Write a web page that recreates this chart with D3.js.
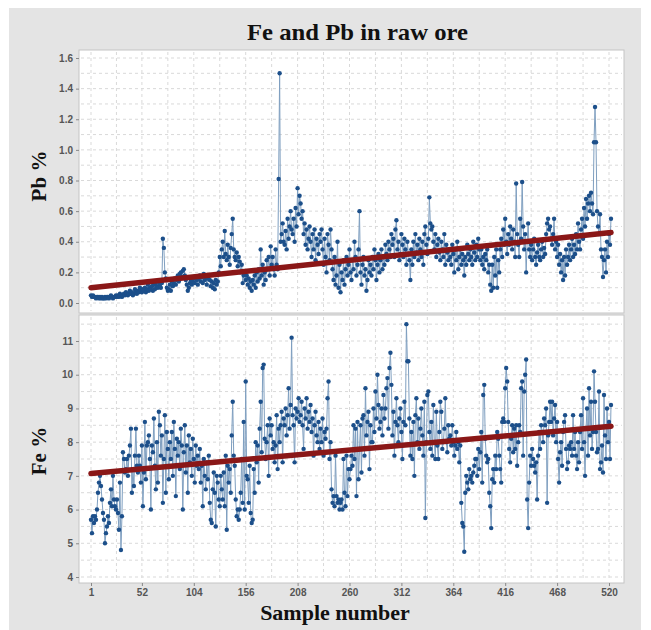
<!DOCTYPE html>
<html><head><meta charset="utf-8">
<script src="https://cdn.jsdelivr.net/npm/d3@7"></script>
<style>body{margin:0;background:#fff}svg{display:block}</style>
</head><body>
<script>
const titleText = "Fe and Pb in raw ore";
const xLabel = "Sample number";
const pbLabel = "Pb %";
const feLabel = "Fe %";
const xTicks = [1, 52, 104, 156, 208, 260, 312, 364, 416, 468, 520];
const pbTicks = [0, 0.2, 0.4, 0.6, 0.8, 1.0, 1.2, 1.4, 1.6];
const feTicks = [4, 5, 6, 7, 8, 9, 10, 11];
const pbTrend = [0.10, 0.46];
const feTrend = [7.07, 8.47];

const pb = [
0.05,0.04,0.05,0.04,0.04,0.03,0.04,0.04,0.03,0.04,
0.03,0.04,0.03,0.03,0.04,0.03,0.04,0.04,0.03,0.04,
0.05,0.04,0.03,0.04,0.04,0.05,0.04,0.05,0.04,0.06,
0.05,0.04,0.05,0.06,0.05,0.07,0.06,0.05,0.06,0.08,
0.06,0.07,0.05,0.06,0.09,0.07,0.06,0.08,0.07,0.10,
0.08,0.07,0.09,0.08,0.10,0.07,0.09,0.12,0.08,0.10,
0.09,0.11,0.08,0.12,0.09,0.13,0.11,0.10,0.14,0.12,
0.10,0.13,0.42,0.36,0.20,0.16,0.10,0.08,0.09,0.12,
0.08,0.14,0.11,0.13,0.16,0.12,0.15,0.18,0.14,0.19,
0.20,0.17,0.21,0.22,0.18,0.15,0.12,0.08,0.10,0.13,
0.15,0.12,0.14,0.16,0.13,0.17,0.15,0.12,0.16,0.18,
0.14,0.17,0.13,0.19,0.15,0.17,0.12,0.16,0.18,0.15,
0.11,0.14,0.10,0.13,0.09,0.15,0.12,0.14,0.20,0.30,
0.24,0.35,0.40,0.30,0.47,0.32,0.28,0.38,0.30,0.25,
0.36,0.45,0.55,0.35,0.30,0.28,0.33,0.24,0.30,0.27,
0.20,0.25,0.13,0.18,0.20,0.15,0.18,0.12,0.16,0.10,
0.14,0.08,0.15,0.12,0.18,0.10,0.20,0.14,0.22,0.16,
0.35,0.18,0.25,0.12,0.20,0.15,0.28,0.22,0.30,0.18,
0.37,0.25,0.30,0.22,0.18,0.35,0.25,0.22,0.81,1.50,
0.40,0.45,0.52,0.40,0.38,0.47,0.35,0.55,0.42,0.50,
0.60,0.48,0.45,0.55,0.40,0.62,0.50,0.75,0.58,0.70,
0.65,0.55,0.60,0.45,0.52,0.38,0.48,0.35,0.42,0.50,
0.40,0.30,0.45,0.35,0.48,0.28,0.42,0.38,0.32,0.45,
0.40,0.48,0.35,0.25,0.42,0.30,0.20,0.45,0.38,0.28,
0.48,0.35,0.22,0.15,0.30,0.12,0.18,0.40,0.10,0.25,
0.07,0.20,0.15,0.28,0.12,0.22,0.30,0.18,0.25,0.35,
0.20,0.15,0.28,0.22,0.40,0.30,0.18,0.25,0.35,0.60,
0.20,0.12,0.25,0.30,0.18,0.22,0.08,0.15,0.28,0.20,
0.25,0.18,0.30,0.22,0.35,0.28,0.15,0.25,0.32,0.20,
0.28,0.35,0.22,0.30,0.25,0.38,0.32,0.28,0.40,0.35,
0.30,0.45,0.38,0.42,0.30,0.48,0.54,0.35,0.40,0.28,
0.32,0.45,0.38,0.30,0.42,0.35,0.25,0.40,0.32,0.28,
0.15,0.35,0.25,0.40,0.30,0.45,0.33,0.38,0.28,0.42,
0.35,0.30,0.40,0.25,0.45,0.50,0.38,0.32,0.42,0.69,
0.52,0.48,0.50,0.40,0.35,0.45,0.30,0.38,0.42,0.33,
0.28,0.40,0.35,0.30,0.45,0.25,0.38,0.33,0.28,0.35,
0.30,0.25,0.38,0.32,0.20,0.35,0.28,0.40,0.22,0.30,
0.35,0.25,0.32,0.28,0.18,0.30,0.25,0.38,0.32,0.28,
0.35,0.30,0.25,0.40,0.33,0.28,0.38,0.30,0.42,0.35,
0.28,0.35,0.25,0.30,0.22,0.32,0.28,0.35,0.20,0.25,
0.12,0.08,0.25,0.10,0.30,0.18,0.35,0.10,0.28,0.20,
0.35,0.42,0.30,0.48,0.38,0.55,0.40,0.32,0.45,0.38,
0.50,0.42,0.35,0.48,0.40,0.30,0.78,0.45,0.38,0.30,
0.55,0.42,0.79,0.50,0.35,0.45,0.20,0.40,0.52,0.35,
0.30,0.38,0.28,0.35,0.42,0.30,0.25,0.33,0.38,0.30,
0.28,0.35,0.40,0.30,0.36,0.32,0.45,0.52,0.55,0.48,
0.50,0.42,0.38,0.45,0.55,0.35,0.40,0.30,0.38,0.25,
0.32,0.20,0.28,0.15,0.30,0.18,0.35,0.25,0.30,0.38,
0.28,0.35,0.42,0.30,0.38,0.32,0.45,0.35,0.52,0.40,
0.35,0.48,0.55,0.42,0.62,0.50,0.68,0.55,0.65,0.70,
0.60,0.72,0.65,0.58,1.05,1.28,1.05,0.60,0.50,0.45,
0.58,0.35,0.30,0.17,0.28,0.35,0.20,0.40,0.30,0.45,
0.38,0.55
];

const fe = [
5.7,5.3,5.8,5.6,5.8,5.7,6.0,6.5,6.8,7.0,
6.7,6.3,5.9,5.7,5.0,5.3,5.5,5.8,5.6,6.2,
6.6,6.1,7.0,6.3,6.1,6.0,6.3,5.9,5.4,6.8,
4.8,5.8,7.7,7.5,7.1,7.2,7.5,7.0,7.6,7.9,
8.4,6.5,7.2,6.7,7.6,8.4,7.3,7.1,7.6,7.3,
6.8,7.9,6.1,7.1,8.6,6.9,7.9,8.0,8.2,7.5,
6.0,7.9,7.7,8.7,7.3,6.6,8.0,6.8,8.9,8.5,
7.6,8.2,6.2,7.5,8.8,6.5,8.3,7.8,6.9,8.0,
7.5,8.3,7.0,8.6,7.8,6.4,8.1,7.6,8.0,7.2,
8.4,7.9,6.0,7.7,8.5,7.1,7.9,6.5,8.2,7.4,
7.8,7.0,8.1,7.5,6.8,7.9,7.3,7.6,7.2,7.8,
6.8,7.3,6.1,7.5,7.0,6.6,7.4,6.9,7.6,6.2,
5.7,5.6,6.6,7.1,6.5,5.5,7.0,6.8,6.3,6.1,
7.0,6.6,6.3,7.1,6.1,7.6,5.4,7.3,6.8,7.2,
6.5,8.2,9.2,7.6,7.3,6.3,5.8,6.0,5.7,6.0,
6.5,7.5,6.2,8.6,6.0,9.8,7.0,6.9,6.2,7.3,
5.9,5.6,5.7,7.2,6.5,8.0,7.4,7.9,6.8,8.4,
9.2,7.7,10.2,10.3,8.1,7.5,8.0,8.5,7.0,8.7,
8.2,8.5,7.8,8.0,7.4,7.9,8.8,7.2,8.4,8.0,
8.5,8.9,7.4,8.7,8.5,9.0,8.2,8.8,9.6,8.4,
9.1,11.1,8.8,8.5,7.4,9.0,8.7,8.9,9.3,8.6,
8.8,9.2,8.5,7.8,9.0,8.7,9.3,8.4,8.9,8.6,
9.1,8.3,8.7,7.6,8.5,8.9,8.2,8.0,8.6,7.8,
8.4,8.0,8.7,7.6,8.3,8.1,8.4,9.3,9.8,7.5,
8.0,6.6,6.2,6.4,6.1,7.6,6.4,6.2,6.3,6.0,
6.2,6.3,6.0,7.5,6.5,6.1,7.6,6.4,7.2,6.9,
7.2,7.6,7.3,8.5,7.5,8.4,6.4,8.6,6.9,7.8,
8.5,7.1,8.7,8.8,7.6,9.6,8.2,8.6,8.9,7.2,
8.5,8.0,8.0,9.0,8.3,9.5,8.7,10.0,9.1,8.4,
8.6,9.0,8.2,9.4,8.7,9.0,9.6,9.9,8.4,10.2,
10.65,9.7,8.2,8.9,7.6,8.6,9.3,8.5,8.0,8.7,
9.0,8.3,7.5,8.6,9.2,8.5,11.5,10.4,10.4,8.7,
7.6,8.3,7.5,8.6,7.0,8.8,9.3,8.0,8.7,7.8,
8.4,9.0,8.2,7.6,9.2,5.75,8.0,9.4,9.5,8.3,
7.8,8.6,7.6,9.1,8.0,7.5,8.9,7.9,7.5,8.3,
9.2,8.9,7.8,8.0,8.4,9.3,8.0,7.7,8.5,8.1,
8.2,7.9,8.5,8.0,7.6,7.9,8.3,7.8,8.0,7.4,
7.9,6.2,5.6,5.5,4.75,6.5,7.0,6.8,6.6,7.2,
6.9,7.0,6.8,7.1,7.3,7.5,7.5,7.0,7.8,7.2,
7.7,8.3,6.8,9.4,9.7,8.1,7.6,7.4,7.5,6.5,
6.1,5.45,6.9,7.2,6.8,7.6,7.2,8.3,8.1,7.6,
7.2,6.8,8.6,8.7,8.6,9.6,10.2,9.8,8.6,7.8,
7.4,8.1,8.5,7.7,8.4,7.8,8.5,7.3,8.0,8.5,
8.3,9.6,9.8,7.6,9.5,10.0,10.45,6.3,5.45,6.8,
7.6,7.3,7.8,7.5,7.3,7.1,7.4,6.3,7.6,8.3,
7.8,8.5,8.3,8.0,8.7,8.5,9.0,6.2,8.2,8.6,
9.2,8.6,9.2,8.2,8.7,9.1,8.0,8.6,7.5,6.8,
7.7,8.0,7.3,8.3,8.6,8.8,7.8,7.2,7.4,7.9,
7.8,8.0,7.6,8.8,7.8,8.3,7.6,7.2,8.0,7.4,
8.3,8.8,7.8,9.3,8.0,7.0,8.4,9.0,7.6,9.6,
8.2,9.2,7.8,8.3,10.1,9.2,8.3,7.7,7.8,9.5,
7.2,7.4,7.9,7.1,9.4,8.2,7.5,9.0,8.0,8.6,
7.5,9.1
];

const W = 651, H = 630;
const svg = d3.select("body").append("svg").attr("width", W).attr("height", H)
  .style("font-family", "'Liberation Sans', Arial, sans-serif");

svg.append("rect").attr("x", 9).attr("y", 8).attr("width", 632).attr("height", 622).attr("fill", "#e4e4e4");

const plotL = 79, plotR = 624;
const x = d3.scaleLinear().domain([1, 520]).range([91, 609]);
const panels = [
  {data: pb, trend: pbTrend, ticks: pbTicks, label: pbLabel, top: 50, bottom: 313,
   y: d3.scaleLinear().domain([0, 1.6]).range([303, 58]), minor: 0.1, fmt: d3.format(".1f"), lab: 176},
  {data: fe, trend: feTrend, ticks: feTicks, label: feLabel, top: 315, bottom: 583,
   y: d3.scaleLinear().domain([4, 11]).range([577, 341]), minor: 0.5, fmt: d3.format("d"), lab: 451}
];

const xMinor = [];
for (let i = 0; i < xTicks.length; i++) {
  xMinor.push(xTicks[i]);
  if (i < xTicks.length - 1) xMinor.push((xTicks[i] + xTicks[i + 1]) / 2);
}

panels.forEach(p => {
  const g = svg.append("g");
  g.append("rect").attr("x", plotL).attr("y", p.top).attr("width", plotR - plotL).attr("height", p.bottom - p.top)
    .attr("fill", "#fff").attr("stroke", "#c4c4c4").attr("stroke-width", 1);
  const d0 = p.y.domain();
  const hg = [];
  for (let v = d0[0]; v <= d0[1] + 1e-9 + p.minor * 1; v += p.minor) hg.push(+v.toFixed(3));
  g.selectAll(".hg").data(hg.filter(v => p.y(v) > p.top + 2 && p.y(v) < p.bottom)).enter().append("line")
    .attr("x1", plotL + 2).attr("x2", plotR - 2).attr("y1", d => p.y(d)).attr("y2", d => p.y(d))
    .attr("stroke", "#d9d9d9").attr("stroke-width", 1).attr("stroke-dasharray", "3,3");
  g.selectAll(".vg").data(xMinor).enter().append("line")
    .attr("y1", p.top + 2).attr("y2", p.bottom - 2).attr("x1", d => x(d)).attr("x2", d => x(d))
    .attr("stroke", "#d9d9d9").attr("stroke-width", 1).attr("stroke-dasharray", "3,3");
  const ax = g.append("g").attr("transform", `translate(${plotL},0)`)
    .call(d3.axisLeft(p.y).tickValues(p.ticks).tickFormat(p.fmt).tickSize(3).tickPadding(3));
  ax.select(".domain").remove();
  ax.selectAll("line").attr("stroke", "#888");
  ax.selectAll("text").attr("font-size", 10).attr("font-weight", "bold").attr("fill", "#555")
    .attr("font-family", "'Liberation Sans', Arial, sans-serif");
  const line = d3.line().x((d, i) => x(i + 1)).y(d => p.y(d));
  g.append("path").datum(p.data).attr("d", line).attr("fill", "none")
    .attr("stroke", "#7f9fc0").attr("stroke-width", 1);
  g.selectAll(".pt").data(p.data).enter().append("circle")
    .attr("cx", (d, i) => x(i + 1)).attr("cy", d => p.y(d)).attr("r", 2.2).attr("fill", "#1c4f8a");
  g.append("line").attr("x1", x(1)).attr("x2", x(p.data.length))
    .attr("y1", p.y(p.trend[0])).attr("y2", p.y(p.trend[1]))
    .attr("stroke", "#8a1717").attr("stroke-width", 5.5).attr("stroke-linecap", "round");
  svg.append("text").attr("transform", `translate(46,${p.lab}) rotate(-90)`).attr("text-anchor", "middle")
    .attr("font-family", "'Liberation Serif', 'Times New Roman', serif").attr("font-weight", "bold")
    .attr("font-size", 21).attr("fill", "#111").text(p.label);
});

const xa = svg.append("g").attr("transform", `translate(0,583)`)
  .call(d3.axisBottom(x).tickValues(xTicks).tickFormat(d3.format("d")).tickSize(3).tickPadding(3));
xa.select(".domain").remove();
xa.selectAll("line").attr("stroke", "#888");
xa.selectAll("text").attr("font-size", 10).attr("fill", "#555").attr("font-weight", "bold")
  .attr("font-family", "'Liberation Sans', Arial, sans-serif");

svg.append("text").attr("x", 357.5).attr("y", 40).attr("text-anchor", "middle")
  .attr("font-family", "'Liberation Serif', 'Times New Roman', serif").attr("font-weight", "bold")
  .attr("font-size", 23).attr("textLength", 221).attr("lengthAdjust", "spacingAndGlyphs")
  .attr("fill", "#111").text(titleText);
svg.append("text").attr("x", 335).attr("y", 620).attr("text-anchor", "middle")
  .attr("font-family", "'Liberation Serif', 'Times New Roman', serif").attr("font-weight", "bold")
  .attr("font-size", 22).attr("fill", "#111").text(xLabel);
</script>
</body></html>
